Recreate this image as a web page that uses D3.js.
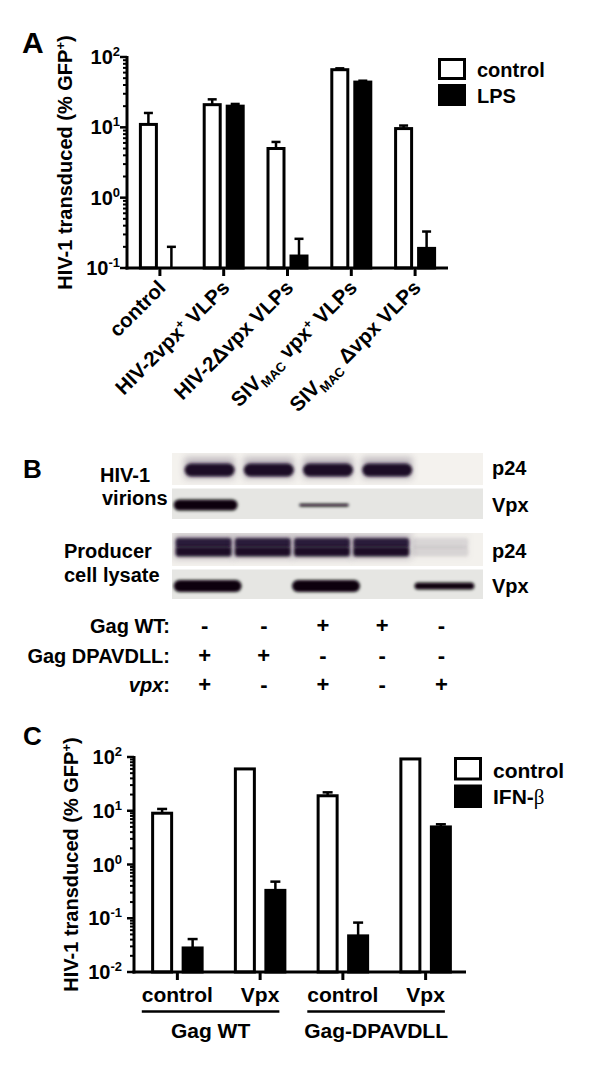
<!DOCTYPE html>
<html><head><meta charset="utf-8">
<script src="https://cdn.jsdelivr.net/npm/d3@7"></script>
<style>
body{margin:0;background:#fff}
svg{display:block}
text{font-family:"Liberation Sans",Arial,Helvetica,sans-serif;font-weight:bold;fill:#000}
</style></head><body>
<svg id="fig" width="600" height="1077"></svg>
<script>
// ---------------- DATA ----------------
// Panel A
const catsA = ["control","HIV-2vpx+ VLPs","HIV-2Δvpx VLPs","SIVMACvpx+ VLPs","SIVMACΔvpx VLPs"];
const seriesA = ["control","LPS"];
const controlA    = [11, 21, 5.0, 66, 9.6];
const controlErrA = [16, 25, 6.2, 69, 10.6];
const lpsA        = [0.1, 20, 0.148, 44, 0.19];
const lpsErrA     = [0.2, 21.5, 0.26, 46, 0.33];
const yExpA = [-1, 0, 1, 2];

// Panel B
const lanesB = [1, 2, 3, 4, 5];
const gagWT      = ["-","-","+","+","-"];
const gagDPAVDLL = ["+","+","-","-","-"];
const vpxRow     = ["+","-","+","-","+"];
const virionsP24 = [1, 1, 1, 1, 0];
const virionsVpx = [1, 0, 0.25, 0, 0];
const lysateP24  = [1, 1, 1, 1, 0.08];
const lysateVpx  = [1, 0, 1, 0, 0.6];

// Panel C
const catsC = ["control","Vpx","control","Vpx"];
const groupsC = ["Gag WT","Gag-DPAVDLL"];
const seriesC = ["control","IFN-β"];
const controlC    = [9, 60, 19, 92];
const controlErrC = [10.8, 60, 22, 92];
const ifnC        = [0.028, 0.33, 0.047, 5.0];
const ifnErrC     = [0.041, 0.48, 0.083, 5.6];
const yExpC = [-2, -1, 0, 1, 2];

// ---------------- DRAW ----------------
const svg = d3.select("#fig");
svg.append("rect").attr("width",600).attr("height",1077).attr("fill","#fff");
const defs = svg.append("defs");
const f = defs.append("filter").attr("id","blur").attr("x","-30%").attr("y","-100%").attr("width","160%").attr("height","300%");
f.append("feGaussianBlur").attr("stdDeviation",1.5);
const f2 = defs.append("filter").attr("id","halo").attr("x","-40%").attr("y","-150%").attr("width","180%").attr("height","400%");
f2.append("feGaussianBlur").attr("stdDeviation",3.5);

function addRich(textSel, parts, small) {
  parts.forEach(p => {
    const ts = textSel.append("tspan").text(p.t);
    if (p.sup) ts.attr("font-size", small).attr("dy", -7);
    else if (p.sub) ts.attr("font-size", small).attr("dy", 5);
    else if (p.after) ts.attr("dy", p.after);
  });
}

function barPanel(c) {
  const g = svg.append("g");
  const y = d3.scaleLog().domain(c.yDomain).range(c.yRange);
  const n = c.s1.length;
  const x0 = d3.scaleBand().domain(d3.range(n)).range(c.xRange);
  const x1 = d3.scalePoint().domain([0,1]).range([-c.step/2, c.step/2]);
  const cx = (i, s) => x0(i) + x0.bandwidth()/2 + x1(s);
  const series = [
    {vals: c.s1, errs: c.e1, fill: "#fff", s: 0},
    {vals: c.s2, errs: c.e2, fill: "#000", s: 1}
  ];
  const base = y.range()[0];
  series.forEach(se => {
    d3.range(n).forEach(i => {
      const v = se.vals[i], e = se.errs[i];
      const xc = cx(i, se.s);
      if (e > v) {
        g.append("line").attr("x1", xc).attr("x2", xc).attr("y1", y(v)).attr("y2", y(e))
          .attr("stroke", "#000").attr("stroke-width", 2.5);
        g.append("line").attr("x1", xc - c.cap/2).attr("x2", xc + c.cap/2).attr("y1", y(e)).attr("y2", y(e))
          .attr("stroke", "#000").attr("stroke-width", 2.5);
      }
      if (y(v) < base - 0.5) {
        g.append("rect").attr("x", xc - c.barW/2).attr("y", y(v)).attr("width", c.barW)
          .attr("height", base - y(v)).attr("fill", se.fill).attr("stroke", "#000").attr("stroke-width", 3);
      }
    });
  });
  const ax = c.axisX;
  g.append("line").attr("x1", ax).attr("x2", ax).attr("y1", y.range()[1] - 1).attr("y2", base + 1.5)
    .attr("stroke", "#000").attr("stroke-width", 3);
  y.ticks().forEach(t => {
    const lg = Math.log10(t);
    const major = Math.abs(lg - Math.round(lg)) < 1e-6;
    g.append("line").attr("x1", ax).attr("x2", ax - (major ? 7 : 4)).attr("y1", y(t)).attr("y2", y(t))
      .attr("stroke", "#000").attr("stroke-width", major ? 2.5 : 2);
  });
  c.yExp.forEach(ex => {
    const tx = g.append("text").attr("x", ax - c.labelGap).attr("y", y(Math.pow(10, ex)) + 7)
      .attr("text-anchor", "end").attr("font-size", 20);
    tx.append("tspan").text("10");
    tx.append("tspan").text(String(ex)).attr("font-size", 13).attr("dy", -8);
  });
  g.append("line").attr("x1", ax - 1.5).attr("x2", c.xEnd).attr("y1", base).attr("y2", base)
    .attr("stroke", "#000").attr("stroke-width", 3);
  d3.range(n).forEach(i => {
    const xc = x0(i) + x0.bandwidth()/2;
    g.append("line").attr("x1", xc).attr("x2", xc).attr("y1", base).attr("y2", base + 8)
      .attr("stroke", "#000").attr("stroke-width", 3);
  });
  const yl = g.append("text").attr("transform", `translate(${c.yLabelX},${(y.range()[0] + y.range()[1]) / 2}) rotate(-90)`)
    .attr("text-anchor", "middle").attr("font-size", 20);
  yl.append("tspan").text("HIV-1 transduced (% GFP");
  yl.append("tspan").text("+").attr("font-size", 13).attr("dy", -7);
  yl.append("tspan").text(")").attr("dy", 7);
  return {g, x0, y, base};
}

// ---- Panel A ----
const A = barPanel({
  s1: controlA, e1: controlErrA, s2: lpsA, e2: lpsErrA,
  yDomain: [0.1, 100], yRange: [268, 57], xRange: [128, 447], xEnd: 448,
  axisX: 127, step: 23, barW: 16, cap: 9, labelGap: 7, yExp: yExpA, yLabelX: 72
});
svg.append("text").attr("x", 22).attr("y", 53).attr("font-size", 30).text("A");
const labelPartsA = [
  [{t:"control"}],
  [{t:"HIV-2vpx"},{t:"+",sup:true},{t:" VLPs",after:7}],
  [{t:"HIV-2Δvpx VLPs"}],
  [{t:"SIV"},{t:"MAC",sub:true},{t:" vpx",after:-5},{t:"+",sup:true},{t:" VLPs",after:7}],
  [{t:"SIV"},{t:"MAC",sub:true},{t:" Δvpx VLPs",after:-5}]
];
catsA.forEach((cname, i) => {
  const xc = A.x0(i) + A.x0.bandwidth()/2;
  const t = svg.append("text").attr("transform", `translate(${xc + 7},${A.base + 21}) rotate(-45)`)
    .attr("text-anchor", "end").attr("font-size", 20.5);
  addRich(t, labelPartsA[i], 13);
});
const legA = svg.append("g");
seriesA.forEach((s, i) => {
  legA.append("rect").attr("x", 439.5).attr("y", 59.5 + i * 26).attr("width", 25).attr("height", 19)
    .attr("fill", i ? "#000" : "#fff").attr("stroke", "#000").attr("stroke-width", 3);
  legA.append("text").attr("x", 477).attr("y", 77 + i * 26).attr("font-size", 20).text(s);
});

// ---- Panel B ----
svg.append("text").attr("x", 23).attr("y", 478).attr("font-size", 26).text("B");
const laneX = d3.scaleBand().domain(lanesB).range([178, 474]);
const lc = l => laneX(l) + laneX.bandwidth()/2;
const blotL = 172, blotR = 483;
const strips = [
  {data: virionsP24, y0: 453, y1: 485, bg: "#f4f2ee", yc: 470, h: 13, w: 50, kind: "p24", dx: 2},
  {data: virionsVpx, y0: 488.5, y1: 519, bg: "#e6e6e3", yc: 505, h: 11, w: 64, kind: "vpx", dx: -2},
  {data: lysateP24,  y0: 533, y1: 566, bg: "#f3f1ed", yc: 547, h: 10, w: 56, kind: "double", dx: -4},
  {data: lysateVpx,  y0: 569.5, y1: 599, bg: "#e6e6e3", yc: 586, h: 12, w: 68, kind: "vpx", dx: 0}
];
const blotG = svg.append("g");
strips.forEach(s => {
  blotG.append("rect").attr("x", blotL).attr("y", s.y0).attr("width", blotR - blotL).attr("height", s.y1 - s.y0).attr("fill", s.bg);
  const clip = defs.append("clipPath").attr("id", "clip" + s.y0);
  clip.append("rect").attr("x", blotL).attr("y", s.y0).attr("width", blotR - blotL).attr("height", s.y1 - s.y0);
  const sg = blotG.append("g").attr("clip-path", `url(#clip${s.y0})`);
  s.data.forEach((v, i) => {
    if (v <= 0) return;
    const x = lc(lanesB[i]) + s.dx;
    if (s.kind === "double") {
      const op = v < 0.2 ? 0.1 : 1;
      sg.append("rect").attr("x", x - s.w/2 - 2).attr("y", s.yc - 14).attr("width", s.w + 4).attr("height", 26)
        .attr("fill", "#3a2a48").attr("opacity", 0.25 * op).attr("filter", "url(#halo)");
      [[-4, "#2a1a3a"], [4.5, "#1a0e26"]].forEach(([dy, col]) => {
        sg.append("rect").attr("x", x - s.w/2).attr("y", s.yc + dy - s.h/2).attr("width", s.w)
          .attr("height", s.h).attr("rx", 3).attr("fill", col).attr("opacity", op).attr("filter", "url(#blur)");
      });
    } else {
      const h = Math.max(2, s.h * v);
      const w = s.w * (0.7 + 0.3 * v);
      if (s.kind === "p24") {
        sg.append("rect").attr("x", x - w/2).attr("y", s.yc - h/2 - 6).attr("width", w).attr("height", h + 8)
          .attr("fill", "#3a2a48").attr("opacity", 0.3).attr("filter", "url(#halo)");
      }
      sg.append("rect").attr("x", x - w/2).attr("y", s.yc - h/2).attr("width", w).attr("height", h)
        .attr("rx", h/2).attr("fill", s.kind === "p24" ? "#1a0d28" : "#08050c").attr("filter", "url(#blur)");
    }
  });
});
const leftLabels = [["HIV-1", 100, 482], ["virions", 102, 505], ["Producer", 64, 558], ["cell lysate", 64, 582]];
leftLabels.forEach(d => svg.append("text").attr("x", d[1]).attr("y", d[2]).attr("font-size", 20).text(d[0]));
const rightLabels = [["p24", 475], ["Vpx", 512], ["p24", 558], ["Vpx", 593]];
rightLabels.forEach(d => svg.append("text").attr("x", 492).attr("y", d[1]).attr("font-size", 20).text(d[0]));
const tableRows = [{lab: "Gag WT:", vals: gagWT}, {lab: "Gag DPAVDLL:", vals: gagDPAVDLL}, {lab: "vpx", vals: vpxRow, it: true}];
tableRows.forEach((r, j) => {
  const yb = 633 + j * 29.5;
  const t = svg.append("text").attr("x", 170).attr("y", yb).attr("text-anchor", "end").attr("font-size", 20);
  if (r.it) { t.append("tspan").text("vpx").attr("font-style", "italic"); t.append("tspan").text(":"); }
  else t.text(r.lab);
  r.vals.forEach((v, i) => {
    svg.append("text").attr("x", lc(lanesB[i]) - 3).attr("y", yb).attr("text-anchor", "middle")
      .attr("font-size", 22).text(v);
  });
});

// ---- Panel C ----
const C = barPanel({
  s1: controlC, e1: controlErrC, s2: ifnC, e2: ifnErrC,
  yDomain: [0.01, 100], yRange: [972, 757], xRange: [136, 467], xEnd: 466,
  axisX: 134, step: 30.5, barW: 19, cap: 10, labelGap: 12, yExp: yExpC, yLabelX: 78
});
svg.append("text").attr("x", 23).attr("y", 745).attr("font-size", 26).text("C");
const tickW = [];
catsC.forEach((cn, i) => {
  const xc = C.x0(i) + C.x0.bandwidth()/2;
  const t = svg.append("text").attr("x", xc).attr("y", 1002).attr("text-anchor", "middle").attr("font-size", 21).text(cn);
  tickW.push([xc - t.node().getComputedTextLength()/2, xc + t.node().getComputedTextLength()/2]);
});
groupsC.forEach((gname, k) => {
  const xa = tickW[2*k][0], xb = tickW[2*k+1][1];
  svg.append("line").attr("x1", xa).attr("x2", xb).attr("y1", 1011.5).attr("y2", 1011.5).attr("stroke", "#000").attr("stroke-width", 2.5);
  svg.append("text").attr("x", (xa + xb)/2).attr("y", 1038).attr("text-anchor", "middle").attr("font-size", 21).text(gname);
});
const legC = svg.append("g");
seriesC.forEach((s, i) => {
  legC.append("rect").attr("x", 455.5).attr("y", 758.5 + i * 27.5).attr("width", 25).attr("height", 20.5)
    .attr("fill", i ? "#000" : "#fff").attr("stroke", "#000").attr("stroke-width", 3);
  const t = legC.append("text").attr("x", 493).attr("y", 778 + i * 26).attr("font-size", 21);
  if (s.endsWith("β")) {
    t.append("tspan").text(s.slice(0, -1));
    t.append("tspan").text("β").attr("font-weight", "normal").attr("font-family", "'Liberation Serif','DejaVu Serif',serif");
  } else t.text(s);
});
</script>
</body></html>
